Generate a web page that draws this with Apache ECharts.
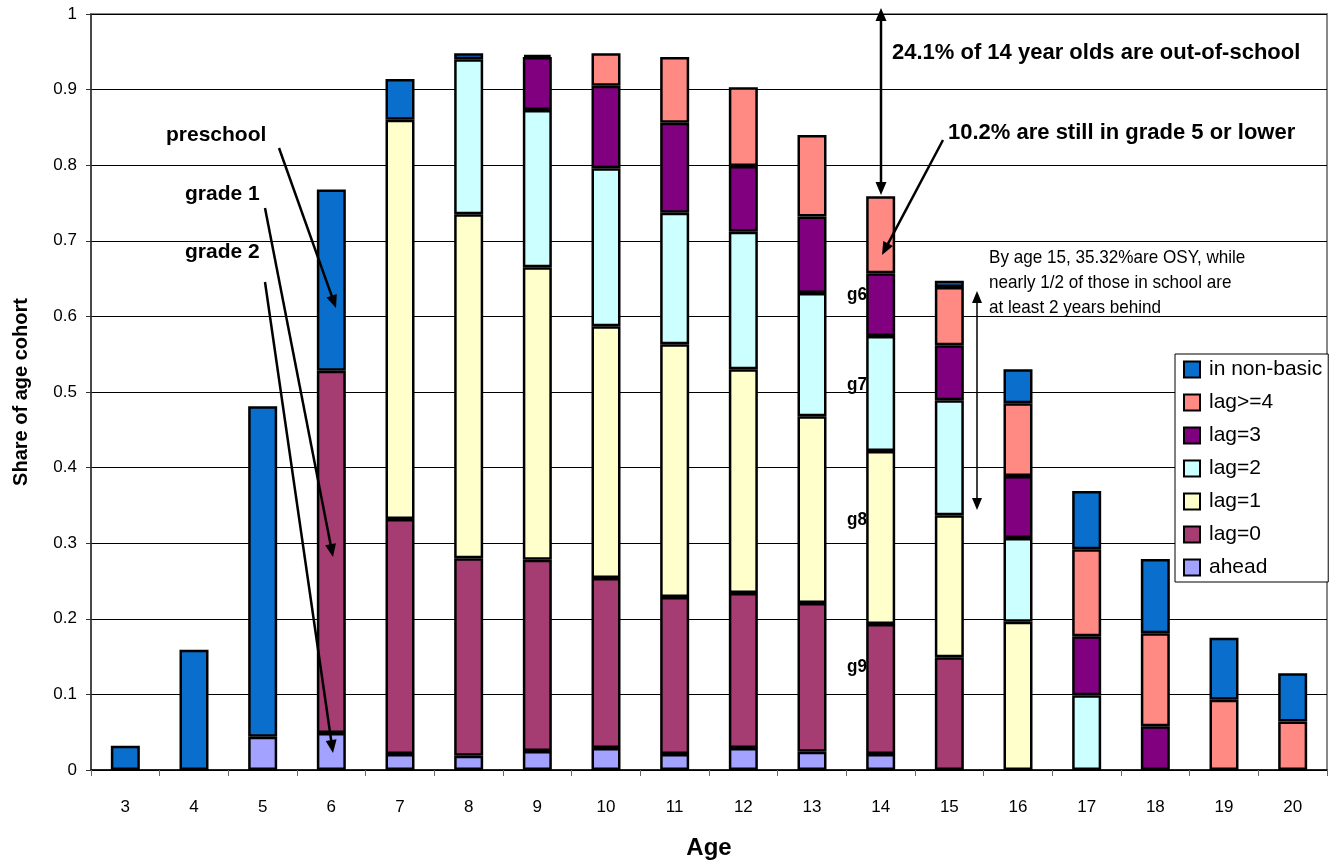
<!DOCTYPE html>
<html>
<head>
<meta charset="utf-8">
<script src="https://cdn.jsdelivr.net/npm/echarts@6/dist/echarts.min.js"></script>
<style>
html,body{margin:0;padding:0;background:#fff;}
#chart{width:1339px;height:860px;}
</style>
</head>
<body>
<div id="chart"></div>
<script>
// ---- data ----
var ages = ['3','4','5','6','7','8','9','10','11','12','13','14','15','16','17','18','19','20'];
var ahead   = [null,null,0.044,0.049,0.021,0.019,0.025,0.029,0.021,0.029,0.024,0.021,null,null,null,null,null,null];
var lag0    = [null,null,null,0.479,0.311,0.261,0.253,0.225,0.208,0.205,0.197,0.172,0.149,null,null,null,null,null];
var lag1    = [null,null,null,null,0.528,0.455,0.387,0.333,0.334,0.296,0.247,0.229,0.188,0.196,null,null,null,null];
var lag2    = [null,null,null,null,null,0.205,0.208,0.209,0.174,0.182,0.163,0.152,0.152,0.111,0.099,null,null,null];
var lag3    = [null,null,null,null,null,null,0.070,0.109,0.119,0.087,0.101,0.083,0.073,0.082,0.078,0.058,null,null];
var lag4    = [null,null,null,null,null,null,null,0.043,0.087,0.104,0.108,0.102,0.077,0.096,0.115,0.123,0.093,0.064];
var nonBasic= [0.032,0.159,0.437,0.240,0.054,0.008,0.003,null,null,null,null,null,0.008,0.045,0.077,0.098,0.082,0.064];
var yTicks  = ['0','0.1','0.2','0.3','0.4','0.5','0.6','0.7','0.8','0.9','1'];

var seriesDefs = [
  {name:'ahead', data:ahead, color:'#A3A3FF'},
  {name:'lag=0', data:lag0, color:'#A53C72'},
  {name:'lag=1', data:lag1, color:'#FFFFCC'},
  {name:'lag=2', data:lag2, color:'#CCFFFF'},
  {name:'lag=3', data:lag3, color:'#800080'},
  {name:'lag>=4', data:lag4, color:'#FF8A84'},
  {name:'in non-basic', data:nonBasic, color:'#0A6ECC'}
];

var FONT = "'Liberation Sans', Arial, sans-serif";

var chart = echarts.init(document.getElementById('chart'));

function arrowHead(x1,y1,x2,y2,len,half){
  var dx=x2-x1, dy=y2-y1, d=Math.sqrt(dx*dx+dy*dy);
  var ux=dx/d, uy=dy/d;
  var bx=x2-ux*len, by=y2-uy*len;
  return {type:'polygon', silent:true, z:100, shape:{points:[[x2,y2],[bx-uy*half,by+ux*half],[bx+uy*half,by-ux*half]]}, style:{fill:'#000'}};
}
function arrow(x1,y1,x2,y2,w,both,len,half){
  len=len||12; half=half||5;
  var dx=x2-x1, dy=y2-y1, d=Math.sqrt(dx*dx+dy*dy), ux=dx/d, uy=dy/d;
  var ex=x2-ux*len*0.6, ey=y2-uy*len*0.6;
  var sx=both?x1+ux*len*0.6:x1, sy=both?y1+uy*len*0.6:y1;
  var g=[{type:'line', silent:true, z:100, shape:{x1:sx,y1:sy,x2:ex,y2:ey}, style:{stroke:'#000', lineWidth:w}}];
  g.push(arrowHead(x1,y1,x2,y2,len,half));
  if(both) g.push(arrowHead(x2,y2,x1,y1,len,half));
  return g;
}
function txt(x,y,s,size,bold,align,sx){
  var o = {type:'text', silent:true, z:100, x:x, y:y, style:{text:s, fill:'#000', font:(bold?'bold ':'')+size+'px '+FONT, textAlign:align||'left', textVerticalAlign:'middle'}};
  if(sx){ o.scaleX = sx; }
  return o;
}

var graphics = [];
graphics = graphics.concat(arrow(881,195,881,8,2.5,true,13,5.5));
graphics.push(txt(892,53,'24.1% of 14 year olds are out-of-school',22,true));
graphics.push(txt(948,133,'10.2% are still in grade 5 or lower',22,true));
graphics = graphics.concat(arrow(943,140,882,255,2.5,false,13,5.5));
graphics.push(txt(989,258,'By age 15, 35.32%are OSY, while',19,false,'left',0.9));
graphics.push(txt(989,283,'nearly 1/2 of those in school are',19,false,'left',0.9));
graphics.push(txt(989,308,'at least 2 years behind',19,false,'left',0.9));
graphics = graphics.concat(arrow(977,510,977,291,1.5,true,12,5));
graphics.push(txt(166,135,'preschool',21,true));
graphics = graphics.concat(arrow(279,148,336,308,2.5,false,13,5.5));
graphics.push(txt(185,194,'grade 1',21,true));
graphics = graphics.concat(arrow(265,208,333,557,2.5,false,13,5.5));
graphics.push(txt(185,252,'grade 2',21,true));
graphics = graphics.concat(arrow(265,282,333,753,2.5,false,13,5.5));
graphics.push(txt(867,295,'g6',19,true,'right',0.9));
graphics.push(txt(867,385,'g7',19,true,'right',0.9));
graphics.push(txt(867,520,'g8',19,true,'right',0.9));
graphics.push(txt(867,667,'g9',19,true,'right',0.9));

var option = {
  backgroundColor:'#fff',
  animation:false,
  textStyle:{fontFamily:FONT},
  grid:{left:91, right:12, top:14, bottom:90, show:true, borderColor:'#888', borderWidth:2, backgroundColor:'#fff', outerBoundsMode:'none', containLabel:false},
  legend:{
    orient:'vertical', left:1175, top:354,
    data:['in non-basic','lag>=4','lag=3','lag=2','lag=1','lag=0','ahead'],
    itemWidth:16, itemHeight:16, itemGap:12,
    backgroundColor:'#fff', borderColor:'#000', borderWidth:1,
    padding:[5,6,4,8],
    textStyle:{fontSize:21, color:'#000', fontFamily:FONT, padding:[0,0,0,4]},
    icon:'rect', selectedMode:false
  },
  xAxis:{
    type:'category', data:ages,
    name:'Age', nameLocation:'middle', nameGap:66,
    nameTextStyle:{fontSize:24, fontWeight:'bold', color:'#000'},
    axisLine:{lineStyle:{color:'#000', width:1.5}},
    axisTick:{show:true, alignWithLabel:false, length:6, lineStyle:{color:'#666'}},
    axisLabel:{fontSize:17, color:'#000', margin:29}
  },
  yAxis:{
    type:'value', min:0, max:1, interval:0.1,
    name:'Share of age cohort', nameLocation:'middle', nameGap:60,
    nameTextStyle:{fontSize:20, fontWeight:'bold', color:'#000'},
    axisLine:{show:true, lineStyle:{color:'#333', width:1.5}},
    axisTick:{show:true, length:5, lineStyle:{color:'#333'}},
    axisLabel:{fontSize:17, color:'#000', margin:14, formatter:function(v){return yTicks[Math.round(v*10)];}},
    splitLine:{show:true, lineStyle:{color:'#000', width:1}}
  },
  series: seriesDefs.map(function(s){
    return {
      name:s.name, type:'bar', stack:'all', data:s.data, barWidth:29,
      itemStyle:{color:s.color, borderColor:'#000', borderWidth:2.5}
    };
  }),
  graphic: graphics
};
chart.setOption(option);
</script>
</body>
</html>
